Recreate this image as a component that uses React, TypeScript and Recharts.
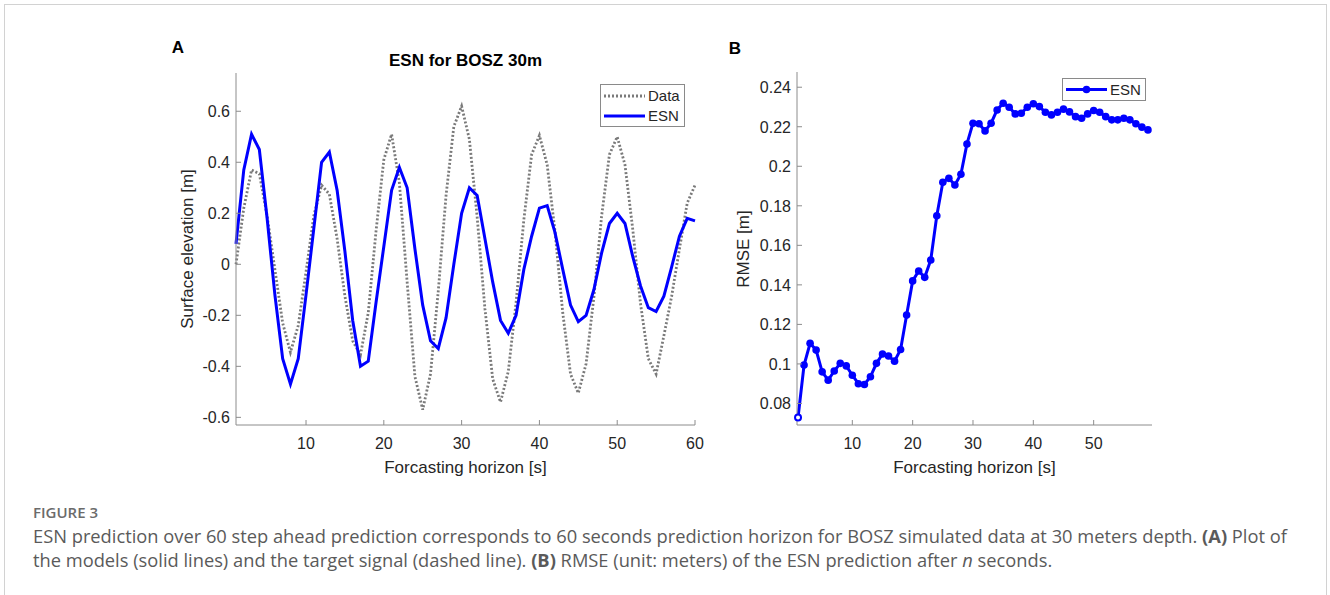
import React from "react";
import { LineChart, Line, XAxis, YAxis } from "recharts";

// forecasting horizon, in seconds
const seconds = Array.from({ length: 60 }, (_, i) => i + 1);

// panel A: target signal (dotted) and ESN prediction [m]
const dataSignal = [
  0.0, 0.22, 0.37, 0.355, 0.19, -0.02, -0.23, -0.345, -0.24, -0.03,
  0.19, 0.31, 0.275, 0.1, -0.125, -0.3, -0.355, -0.19, 0.13, 0.41,
  0.51, 0.32, -0.07, -0.44, -0.57, -0.43, -0.105, 0.27, 0.54, 0.62,
  0.49, 0.185, -0.175, -0.45, -0.54, -0.42, -0.15, 0.175, 0.43, 0.505,
  0.39, 0.13, -0.19, -0.43, -0.505, -0.39, -0.13, 0.19, 0.43, 0.5,
  0.39, 0.137, -0.155, -0.37, -0.43, -0.28, -0.125, 0.06, 0.24, 0.31,
];
const esnSignal = [
  0.08, 0.37, 0.51, 0.45, 0.18, -0.12, -0.37, -0.47, -0.37, -0.12,
  0.14, 0.4, 0.44, 0.29, 0.05, -0.22, -0.4, -0.38, -0.15, 0.07,
  0.29, 0.38, 0.3, 0.06, -0.16, -0.3, -0.33, -0.21, 0.0, 0.2,
  0.3, 0.27, 0.1, -0.07, -0.22, -0.27, -0.2, -0.02, 0.11, 0.22,
  0.23, 0.125, -0.02, -0.16, -0.225, -0.2, -0.1, 0.045, 0.16, 0.2,
  0.16, 0.03, -0.085, -0.17, -0.185, -0.125, -0.01, 0.11, 0.18, 0.17,
];

// panel B: RMSE of the ESN after n seconds [m]
const rmseSteps = seconds.slice(0, 59);
const esnRmse = [
  0.0729, 0.0994, 0.1104, 0.107, 0.096, 0.0918, 0.0964, 0.1003, 0.099, 0.0943,
  0.09, 0.0896, 0.0935, 0.1003, 0.105, 0.104, 0.1014, 0.1073, 0.1247, 0.142,
  0.147, 0.1438, 0.1526, 0.175, 0.1919, 0.1939, 0.1905, 0.196, 0.2113, 0.2218,
  0.2215, 0.2179, 0.2218, 0.2285, 0.2319, 0.2299, 0.2265, 0.2268, 0.2299, 0.2316,
  0.2302, 0.2273, 0.226, 0.2273, 0.2289, 0.2275, 0.2251, 0.2243, 0.2265, 0.2282,
  0.2273, 0.2251, 0.2235, 0.2235, 0.2243, 0.2235, 0.2215, 0.2198, 0.2184,
];

const ticksAx = [10, 20, 30, 40, 50, 60];
const ticksAy = [-0.6, -0.4, -0.2, 0, 0.2, 0.4, 0.6];
const ticksBx = [10, 20, 30, 40, 50];
const ticksBy = [0.08, 0.1, 0.12, 0.14, 0.16, 0.18, 0.2, 0.22, 0.24];

const seriesA = seconds.map((t, i) => ({ t, data: dataSignal[i], esn: esnSignal[i] }));
const seriesB = rmseSteps.map((t, i) => ({ t, rmse: esnRmse[i] }));

const AXIS = "#8c8c8c";
const TXT = "#262626";
const BLUE = "#0000ff";
const FONT = "'Liberation Sans', Arial, Helvetica, sans-serif";
const CAPTION_FONT = "'Open Sans', 'Noto Sans', sans-serif";

const fmt = (v: number) => String(Math.round(v * 100) / 100);

// MATLAB-style ticks: pointing into the plot
const YTick = (p: any) => (
  <g>
    <line x1={p.x + 6} x2={p.x + 11} y1={p.y} y2={p.y} stroke={AXIS} />
    <text x={p.x} y={p.y + 6} textAnchor="end" fontSize={16} fill={TXT} fontFamily={FONT}>
      {fmt(p.payload.value)}
    </text>
  </g>
);

const XTick = (p: any) => (
  <g>
    <line x1={p.x} x2={p.x} y1={p.y} y2={p.y - 5} stroke={AXIS} />
    <text x={p.x} y={p.y + 24} textAnchor="middle" fontSize={16} fill={TXT} fontFamily={FONT}>
      {fmt(p.payload.value)}
    </text>
  </g>
);

const rmseDot = (p: any) => {
  if (p.index === 0) {
    return <circle key={`d${p.index}`} cx={p.cx} cy={p.cy} r={3} fill="#fff" stroke={BLUE} strokeWidth={2} />;
  }
  return <circle key={`d${p.index}`} cx={p.cx} cy={p.cy} r={3.8} fill={BLUE} stroke="none" />;
};

const App: React.FC = () => {
  return (
    <div style={{ position: "absolute", left: 0, top: 0, width: 1330, height: 595, overflow: "hidden", background: "#fff" }}>
      <div style={{ position: "absolute", left: 4, top: 4, width: 1321, height: 640, border: "1px solid #d2d2d2" }} />

      <div style={{ position: "absolute", left: 150, top: 60 }}>
        <LineChart width={560} height={430} data={seriesA} margin={{ top: 13, right: 15, left: 0, bottom: 0 }}>
          <XAxis
            dataKey="t"
            type="number"
            domain={[1, 60]}
            ticks={ticksAx}
            height={65}
            axisLine={{ stroke: AXIS }}
            tickLine={false}
            tickSize={0}
            tickMargin={0}
            tick={(p: any) => <XTick {...p} />}
          />
          <YAxis
            type="number"
            domain={[-0.63, 0.75]}
            ticks={ticksAy}
            width={86}
            axisLine={{ stroke: AXIS }}
            tickLine={false}
            tickSize={0}
            tickMargin={6}
            tick={(p: any) => <YTick {...p} />}
          />
          <Line
            dataKey="data"
            stroke="#7a7a7a"
            strokeWidth={2.8}
            strokeDasharray="2 2"
            dot={false}
            activeDot={false}
            isAnimationActive={false}
          />
          <Line
            dataKey="esn"
            stroke={BLUE}
            strokeWidth={3}
            dot={false}
            activeDot={false}
            isAnimationActive={false}
          />
        </LineChart>
      </div>

      <div style={{ position: "absolute", left: 700, top: 60 }}>
        <LineChart width={460} height={430} data={seriesB} margin={{ top: 12, right: 8, left: 0, bottom: 0 }}>
          <XAxis
            dataKey="t"
            type="number"
            domain={[0.83, 59.67]}
            ticks={ticksBx}
            height={65}
            axisLine={{ stroke: AXIS }}
            tickLine={false}
            tickSize={0}
            tickMargin={0}
            tick={(p: any) => <XTick {...p} />}
          />
          <YAxis
            type="number"
            domain={[0.0691, 0.2477]}
            ticks={ticksBy}
            width={97}
            axisLine={{ stroke: AXIS }}
            tickLine={false}
            tickSize={0}
            tickMargin={6}
            tick={(p: any) => <YTick {...p} />}
          />
          <Line
            dataKey="rmse"
            stroke={BLUE}
            strokeWidth={3}
            dot={rmseDot}
            activeDot={false}
            isAnimationActive={false}
          />
        </LineChart>
      </div>

      <svg width={1330} height={595} style={{ position: "absolute", left: 0, top: 0, pointerEvents: "none" }} fontFamily={FONT}>
        <text x={178} y={53} textAnchor="middle" fontSize={17} fontWeight="bold" fill="#000">A</text>
        <text x={735} y={54} textAnchor="middle" fontSize={17} fontWeight="bold" fill="#000">B</text>
        <text x={465.5} y={66} textAnchor="middle" fontSize={17} fontWeight="bold" fill="#000">ESN for BOSZ 30m</text>

        <text x={187} y={249} transform="rotate(-90 187 249)" textAnchor="middle" dominantBaseline="central" fontSize={17} fill={TXT}>
          Surface elevation [m]
        </text>
        <text x={465.5} y={473} textAnchor="middle" fontSize={17} fill={TXT}>Forcasting horizon [s]</text>
        <text x={743} y={249} transform="rotate(-90 743 249)" textAnchor="middle" dominantBaseline="central" fontSize={17} fill={TXT}>
          RMSE [m]
        </text>
        <text x={974.5} y={473} textAnchor="middle" fontSize={17} fill={TXT}>Forcasting horizon [s]</text>

        <rect x={600.5} y={84.5} width={84} height={42} fill="#fff" stroke="#8a8a8a" />
        <line x1={604} x2={645} y1={96} y2={96} stroke="#7a7a7a" strokeWidth={2.8} strokeDasharray="2 2" />
        <text x={648} y={101} fontSize={15} fill={TXT}>Data</text>
        <line x1={604} x2={645} y1={116} y2={116} stroke={BLUE} strokeWidth={3} />
        <text x={648} y={121} fontSize={15} fill={TXT}>ESN</text>

        <rect x={1062.5} y={78.5} width={83} height={22} fill="#fff" stroke="#8a8a8a" />
        <line x1={1066} x2={1107} y1={89.5} y2={89.5} stroke={BLUE} strokeWidth={3} />
        <circle cx={1086.5} cy={89.5} r={3.8} fill={BLUE} />
        <text x={1110} y={95} fontSize={15} fill={TXT}>ESN</text>
      </svg>

      <div style={{ position: "absolute", left: 33, top: 502, fontFamily: CAPTION_FONT, fontSize: 15, fontWeight: 600, color: "#6b6b6b", lineHeight: "20px", whiteSpace: "nowrap" }}>
        FIGURE 3
      </div>
      <div style={{ position: "absolute", left: 33, top: 524, fontFamily: CAPTION_FONT, fontSize: 18.3, color: "#5a5a5a", lineHeight: "24px", whiteSpace: "nowrap" }}>
        ESN prediction over 60 step ahead prediction corresponds to 60 seconds prediction horizon for BOSZ simulated data at 30 meters depth. <b>(A)</b> Plot of
        <br />
        the models (solid lines) and the target signal (dashed line). <b>(B)</b> RMSE (unit: meters) of the ESN prediction after <i>n</i> seconds.
      </div>
    </div>
  );
};

export default App;
